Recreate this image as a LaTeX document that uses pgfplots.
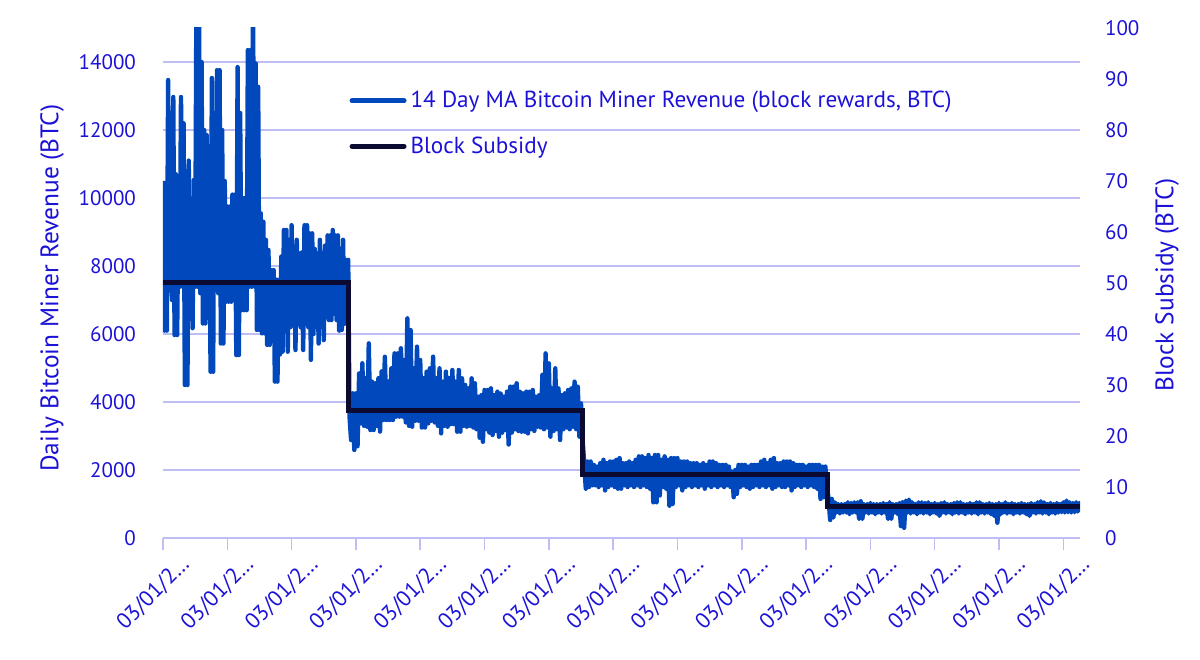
\documentclass[border=0pt]{standalone}
\usepackage{fontspec}
\setmainfont{PT Sans}
\usepackage{pgfplots}
\pgfplotsset{compat=1.18}
\definecolor{txtblue}{RGB}{28,18,215}
\definecolor{serblue}{RGB}{0,72,187}
\definecolor{navy}{RGB}{10,10,50}
\definecolor{gridc}{RGB}{190,190,245}
\begin{document}
\begin{tikzpicture}
\useasboundingbox (-81.5pt,-60.5pt) rectangle (518.5pt,269pt);
\begin{axis}[
  scale only axis, width=458.5pt, height=255pt,
  xmin=0, xmax=14.26, ymin=0, ymax=15000,
  axis y line*=left, axis x line*=bottom,
  y axis line style={draw=none},
  x axis line style={draw=gridc, line width=0.75pt, -},
  xtick={0,...,14},
  xticklabels={03/01/2…,03/01/2…,03/01/2…,03/01/2…,03/01/2…,03/01/2…,03/01/2…,03/01/2…,03/01/2…,03/01/2…,03/01/2…,03/01/2…,03/01/2…,03/01/2…,03/01/2…},
  xtick style={draw=gridc, line width=0.75pt},
  major tick length=6pt,
  tick align=outside,
  ytick={0,2000,...,14000},
  scaled y ticks=false,
  ytick style={draw=none},
  ymajorgrids, grid style={draw=gridc, line width=0.75pt},
  tick label style={font=\fontsize{10.5}{12}\selectfont, text=txtblue},
  yticklabel style={xshift=-4pt},
  xticklabel style={font=\fontsize{11}{13}\selectfont, rotate=45, anchor=east, inner sep=0pt, xshift=4.5pt, yshift=-12pt},
  /pgf/number format/assume math mode=true,
  /pgf/number format/1000 sep={},
  ylabel={Daily Bitcoin Miner Revenue (BTC)},
  ylabel style={at={(axis description cs:-0.121,0.49)}, anchor=center, font=\fontsize{12.7}{15}\selectfont, text=txtblue},
]
\addplot[serblue, line width=2.2pt, line join=round] coordinates {
(0.00,10500)(0.02,6100)(0.04,9900)(0.06,6100)(0.08,13470)(0.10,7400)(0.12,9700)(0.14,7000)
(0.16,12970)(0.18,5970)(0.20,10700)(0.22,5970)(0.24,9800)(0.26,7390)(0.28,12970)(0.30,7400)
(0.32,12200)(0.34,4500)(0.36,10700)(0.38,4500)(0.40,11100)(0.42,7000)(0.44,9800)(0.46,6170)
(0.48,10530)(0.50,7390)(0.52,16000)(0.54,7390)(0.56,16000)(0.58,7200)(0.60,14000)(0.62,6310)
(0.64,12000)(0.66,6310)(0.68,11850)(0.70,7390)(0.72,10000)(0.74,4890)(0.76,13530)(0.78,4890)
(0.80,12500)(0.82,7390)(0.84,13760)(0.86,7200)(0.88,13760)(0.90,5720)(0.92,12000)(0.94,5720)
(0.96,10500)(0.98,6950)(1.00,9750)(1.02,6950)(1.04,9750)(1.06,6950)(1.08,10100)(1.10,7200)
(1.12,10100)(1.14,5380)(1.16,13850)(1.18,5380)(1.20,12500)(1.22,6700)(1.24,10000)(1.26,6700)
(1.28,10000)(1.30,6700)(1.32,14350)(1.34,7390)(1.36,14350)(1.38,7390)(1.40,16000)(1.42,7400)
(1.44,13960)(1.46,6120)(1.48,13270)(1.50,6120)(1.52,9550)(1.54,6020)(1.56,9300)(1.58,6020)
(1.60,8770)(1.62,5680)(1.64,8470)(1.66,5680)(1.68,7880)(1.70,6000)(1.72,7880)(1.74,4600)
(1.76,7600)(1.78,4600)(1.80,7590)(1.82,5400)(1.84,8280)(1.86,5480)(1.88,9060)(1.90,6200)
(1.92,9060)(1.94,5480)(1.96,8770)(1.98,6200)(2.00,9200)(2.02,6300)(2.04,8500)(2.06,5530)
(2.08,8770)(2.10,6300)(2.12,8370)(2.14,6200)(2.16,8400)(2.18,5530)(2.20,9200)(2.22,6300)
(2.24,9200)(2.26,6200)(2.28,8960)(2.30,5240)(2.32,8960)(2.34,6000)(2.36,8500)(2.38,6300)
(2.40,8370)(2.42,5720)(2.44,8770)(2.46,6400)(2.48,8370)(2.50,5820)(2.52,8600)(2.54,6500)
(2.56,8900)(2.58,6410)(2.60,8900)(2.62,6410)(2.64,9060)(2.66,6600)(2.68,8900)(2.70,6410)
(2.72,8900)(2.74,6100)(2.76,8500)(2.78,6120)(2.80,8770)(2.82,6300)(2.84,8180)(2.86,6500)
(2.88,8180)
(2.90,3600)(2.925,2880)(2.95,4255)(2.975,2590)(3.00,4255)(3.025,2700)(3.05,4840)(3.075,3372)
(3.10,5140)(3.125,3300)(3.15,4700)(3.175,3274)(3.20,5725)(3.225,3176)(3.25,4600)(3.275,3176)
(3.30,4550)(3.325,3300)(3.35,4700)(3.375,3130)(3.40,4900)(3.425,3470)(3.45,5330)(3.475,3470)
(3.50,4600)(3.525,3470)(3.55,4990)(3.575,3470)(3.60,5430)(3.625,3570)(3.65,5430)(3.675,3570)
(3.70,5580)(3.725,3570)(3.75,5235)(3.775,3400)(3.80,6460)(3.825,3300)(3.85,6117)(3.875,3274)
(3.90,4990)(3.925,3450)(3.95,5627)(3.975,3450)(4.00,5235)(4.025,3250)(4.05,4700)(4.075,3250)
(4.10,4892)(4.125,3372)(4.15,4990)(4.175,3450)(4.20,5333)(4.225,3400)(4.25,4700)(4.275,3300)
(4.30,4990)(4.325,3078)(4.35,4600)(4.375,3300)(4.40,4892)(4.425,3274)(4.45,4700)(4.475,3350)
(4.50,4941)(4.525,3350)(4.55,4600)(4.575,3127)(4.60,4941)(4.625,3127)(4.65,4696)(4.675,3300)
(4.70,4500)(4.725,3274)(4.75,4402)(4.775,3300)(4.80,4696)(4.825,3250)(4.85,4550)(4.875,3200)
(4.90,4157)(4.925,2950)(4.95,4200)(4.975,2830)(5.00,4353)(5.025,3200)(5.05,4353)(5.075,3100)
(5.10,4402)(5.125,3030)(5.15,4200)(5.175,3150)(5.20,4304)(5.225,2980)(5.25,4250)(5.275,3100)
(5.30,4157)(5.325,3176)(5.35,4304)(5.375,2750)(5.40,4451)(5.425,3100)(5.45,4451)(5.475,3200)
(5.50,4550)(5.525,3150)(5.55,4300)(5.575,3127)(5.60,4255)(5.625,3127)(5.65,4304)(5.675,3078)
(5.70,4300)(5.725,3200)(5.75,4353)(5.775,3150)(5.80,4157)(5.825,3274)(5.85,4200)(5.875,3250)
(5.90,4800)(5.925,3200)(5.95,5430)(5.975,3250)(6.00,5137)(6.025,2980)(6.05,4400)(6.075,3150)
(6.10,4990)(6.125,3200)(6.15,4400)(6.175,2882)(6.20,4200)(6.225,3200)(6.25,4255)(6.275,3250)
(6.30,4353)(6.325,3200)(6.35,4400)(6.375,3274)(6.40,4598)(6.425,3200)(6.45,4451)(6.475,2980)
(6.50,3960)(6.525,2882)
(6.55,2200)(6.575,1450)(6.60,2250)(6.625,1500)(6.65,2250)(6.675,1550)(6.70,2150)(6.725,1550)
(6.75,2100)(6.775,1500)(6.80,2200)(6.825,1550)(6.85,2300)(6.875,1400)(6.90,2200)(6.925,1500)
(6.95,2250)(6.975,1550)(7.00,2250)(7.025,1500)(7.05,2300)(7.075,1450)(7.10,2350)(7.125,1450)
(7.15,2200)(7.175,1550)(7.20,2200)(7.225,1500)(7.25,2250)(7.275,1550)(7.30,2200)(7.325,1500)
(7.35,2300)(7.375,1550)(7.40,2400)(7.425,1500)(7.45,2400)(7.475,1550)(7.50,2350)(7.525,1500)
(7.55,2440)(7.575,1450)(7.60,2350)(7.625,1050)(7.65,2440)(7.675,1050)(7.70,2440)(7.725,1250)
(7.75,2300)(7.775,1500)(7.80,2400)(7.825,1450)(7.85,2300)(7.875,950)(7.90,2350)(7.925,1000)
(7.95,2350)(7.975,1500)(8.00,2350)(8.025,1550)(8.05,2250)(8.075,1400)(8.10,2250)(8.125,1500)
(8.15,2250)(8.175,1550)(8.20,2200)(8.225,1500)(8.25,2200)(8.275,1550)(8.30,2200)(8.325,1500)
(8.35,2150)(8.375,1550)(8.40,2200)(8.425,1450)(8.45,2150)(8.475,1550)(8.50,2250)(8.525,1500)
(8.55,2250)(8.575,1550)(8.60,2200)(8.625,1500)(8.65,2150)(8.675,1550)(8.70,2150)(8.725,1500)
(8.75,2150)(8.775,1550)(8.80,2100)(8.825,1500)(8.85,1950)(8.875,1200)(8.90,2000)(8.925,1300)
(8.95,2150)(8.975,1500)(9.00,2150)(9.025,1550)(9.05,2150)(9.075,1500)(9.10,2100)(9.125,1450)
(9.15,2150)(9.175,1500)(9.20,2150)(9.225,1550)(9.25,2150)(9.275,1500)(9.30,2250)(9.325,1550)
(9.35,2300)(9.375,1500)(9.40,2200)(9.425,1550)(9.45,2300)(9.475,1450)(9.50,2350)(9.525,1500)
(9.55,2200)(9.575,1550)(9.60,2200)(9.625,1500)(9.65,2250)(9.675,1500)(9.70,2250)(9.725,1550)
(9.75,2250)(9.775,1400)(9.80,2200)(9.825,1500)(9.85,2150)(9.875,1550)(9.90,2150)(9.925,1500)
(9.95,2150)(9.975,1550)(10.00,2100)(10.025,1500)(10.05,2150)(10.075,1550)(10.10,2150)(10.125,1500)
(10.15,2150)(10.175,1450)(10.20,2150)(10.225,1150)(10.25,2100)(10.275,1200)(10.30,2100)(10.325,1500)
(10.35,1150)(10.375,530)(10.40,1150)(10.425,600)(10.45,1050)(10.475,750)(10.50,1000)(10.525,720)
(10.55,1000)(10.575,750)(10.60,1000)(10.625,750)(10.65,1050)(10.675,700)(10.70,1030)(10.725,750)
(10.75,1050)(10.775,750)(10.80,1050)(10.825,560)(10.85,1080)(10.875,560)(10.90,1000)(10.925,750)
(10.95,1000)(10.975,720)(11.00,1030)(11.025,750)(11.05,1000)(11.075,700)(11.10,1000)(11.125,750)
(11.15,1000)(11.175,720)(11.20,1030)(11.225,750)(11.25,1000)(11.275,560)(11.30,1050)(11.325,560)
(11.35,1000)(11.375,750)(11.40,1000)(11.425,700)(11.45,1030)(11.475,350)(11.50,1050)(11.525,300)
(11.55,1100)(11.575,750)(11.60,1130)(11.625,720)(11.65,1050)(11.675,750)(11.70,1000)(11.725,700)
(11.75,1050)(11.775,750)(11.80,1050)(11.825,720)(11.85,1030)(11.875,750)(11.90,1050)(11.925,700)
(11.95,1000)(11.975,750)(12.00,1030)(12.025,720)(12.05,1000)(12.075,650)(12.10,1030)(12.125,750)
(12.15,1050)(12.175,720)(12.20,1000)(12.225,750)(12.25,1000)(12.275,700)(12.30,1030)(12.325,750)
(12.35,1050)(12.375,720)(12.40,1050)(12.425,750)(12.45,1000)(12.475,700)(12.50,1000)(12.525,750)
(12.55,1030)(12.575,720)(12.60,1000)(12.625,750)(12.65,1050)(12.675,700)(12.70,1050)(12.725,750)
(12.75,1000)(12.775,720)(12.80,1000)(12.825,750)(12.85,1030)(12.875,700)(12.90,1000)(12.925,650)
(12.95,1000)(12.975,450)(13.00,1030)(13.025,700)(13.05,1000)(13.075,750)(13.10,1050)(13.125,720)
(13.15,1000)(13.175,750)(13.20,1030)(13.225,700)(13.25,1000)(13.275,750)(13.30,1000)(13.325,720)
(13.35,1030)(13.375,750)(13.40,1000)(13.425,700)(13.45,1000)(13.475,650)(13.50,1030)(13.525,750)
(13.55,1000)(13.575,720)(13.60,1050)(13.625,750)(13.65,1080)(13.675,720)(13.70,1050)(13.725,750)
(13.75,1000)(13.775,700)(13.80,1030)(13.825,750)(13.85,1000)(13.875,720)(13.90,1030)(13.925,750)
(13.95,1000)(13.975,760)(14.00,1050)(14.025,750)(14.05,1100)(14.075,760)(14.10,1050)(14.125,750)
(14.15,1030)(14.175,760)(14.20,1050)(14.225,780)(14.25,1030)(14.275,800)
};
\end{axis}
\begin{axis}[
  scale only axis, width=458.5pt, height=255pt,
  xmin=0, xmax=14.26, ymin=0, ymax=100,
  axis y line*=right, hide x axis,
  y axis line style={draw=none}, ytick style={draw=none},
  ytick={0,10,...,100},
  tick label style={font=\fontsize{10.5}{12}\selectfont, text=txtblue},
  yticklabel style={xshift=9pt},
  /pgf/number format/assume math mode=true,
  ylabel={Block Subsidy (BTC)},
  ylabel style={at={(axis description cs:1.095,0.496)}, anchor=center, font=\fontsize{12.7}{15}\selectfont, text=txtblue},
  legend style={draw=none, fill=none, at={(0.203,0.885)}, anchor=north west, inner sep=0pt,
    font=\fontsize{11.6}{14}\selectfont, text=txtblue, row sep=9pt, nodes={inner sep=2pt}},
  legend cell align=left,
  legend image code/.code={\draw[#1] (0pt,0pt) -- (26pt,0pt);},
]
\addlegendimage{serblue, line width=2.5pt, line cap=round}
\addlegendimage{navy, line width=2.5pt, line cap=round}
\legend{{14 Day MA Bitcoin Miner Revenue (block rewards, BTC)}, {Block Subsidy}}
\addplot[navy, line width=2.5pt, const plot, forget plot] coordinates {
(0,50)(2.89,25)(6.52,12.5)(10.33,6.25)(14.26,6.25)
};
\end{axis}
\end{tikzpicture}
\end{document}
